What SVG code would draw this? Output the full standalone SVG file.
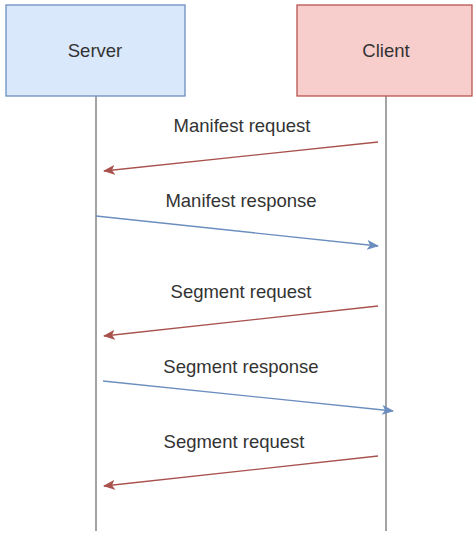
<svg xmlns="http://www.w3.org/2000/svg" width="473" height="533" viewBox="0 0 473 533">
<style>
.lbl{font-family:"Liberation Sans",Arial,sans-serif;font-size:18.5px;fill:#333;text-anchor:middle}
.life{stroke:#666;stroke-width:1.2;fill:none}
.req{stroke:#a9514d;stroke-width:1.3;fill:none}
.resp{stroke:#6c8ebf;stroke-width:1.3;fill:none}
</style>
<defs>
<marker id="ah-red" viewBox="0 0 12 10" refX="11" refY="5" markerWidth="12" markerHeight="10" markerUnits="userSpaceOnUse" orient="auto">
<path d="M0,0 L12,5 L0,10 L3,5 Z" fill="#a9514d"/>
</marker>
<marker id="ah-blue" viewBox="0 0 12 10" refX="11" refY="5" markerWidth="12" markerHeight="10" markerUnits="userSpaceOnUse" orient="auto">
<path d="M0,0 L12,5 L0,10 L3,5 Z" fill="#6c8ebf"/>
</marker>
</defs>
<rect width="473" height="533" fill="#ffffff"/>
<g id="lifelines">
<line class="life" x1="96" y1="96" x2="96" y2="531"/>
<line class="life" x1="386" y1="96" x2="386" y2="531"/>
</g>
<g id="server">
<rect x="6" y="5" width="179" height="91" fill="#dae8fc" stroke="#6c8ebf" stroke-width="1.3"/>
<text class="lbl" x="95" y="57">Server</text>
</g>
<g id="client">
<rect x="297" y="5" width="175" height="91" fill="#f8cecc" stroke="#b85450" stroke-width="1.3"/>
<text class="lbl" x="386" y="57">Client</text>
</g>
<g id="connectors">
<line class="req" x1="378" y1="142" x2="104" y2="171" marker-end="url(#ah-red)"/>
<line class="resp" x1="96" y1="216" x2="378" y2="246" marker-end="url(#ah-blue)"/>
<line class="req" x1="378" y1="306" x2="104" y2="336" marker-end="url(#ah-red)"/>
<line class="resp" x1="103" y1="381" x2="393" y2="411" marker-end="url(#ah-blue)"/>
<line class="req" x1="378" y1="456" x2="104" y2="486" marker-end="url(#ah-red)"/>
</g>
<g id="labels">
<text class="lbl" x="242" y="132">Manifest request</text>
<text class="lbl" x="241" y="207">Manifest response</text>
<text class="lbl" x="241" y="298">Segment request</text>
<text class="lbl" x="241" y="373">Segment response</text>
<text class="lbl" x="234" y="448">Segment request</text>
</g>
</svg>
